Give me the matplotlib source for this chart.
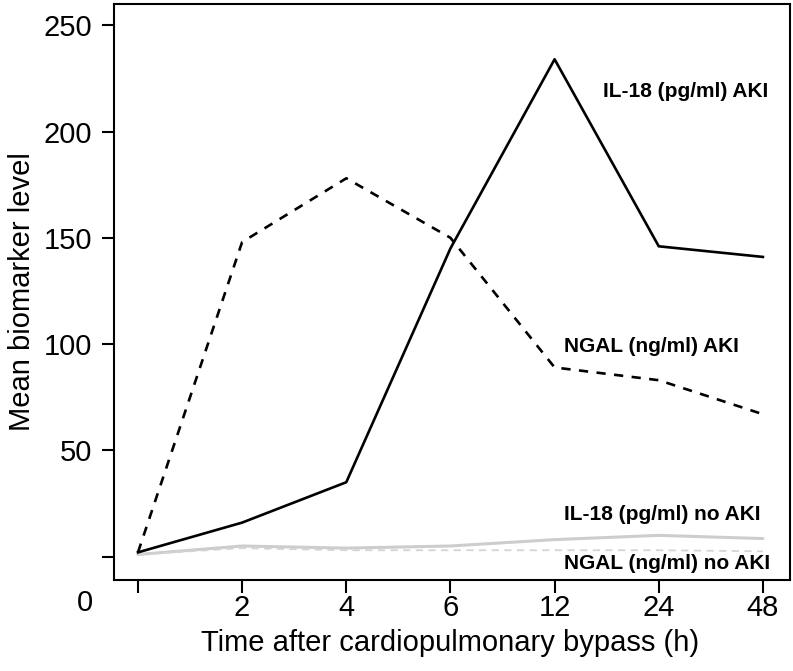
import matplotlib
matplotlib.use("Agg")

import matplotlib.pyplot as plt

plt.rcParams['font.family'] = ['Liberation Sans', 'DejaVu Sans']

# time points after bypass (categorical axis)
time_labels = ["0", "2", "4", "6", "12", "24", "48"]

# mean biomarker levels
il18_aki = [2, 16, 35, 145, 234, 146, 141]
ngal_aki = [2, 148, 178, 150, 89, 83, 67]
il18_no_aki = [1, 5, 4, 5, 8, 10, 8.5]
ngal_no_aki = [1, 4, 3, 3, 3, 3, 2.5]

series_names = ["IL-18 (pg/ml) AKI", "NGAL (ng/ml) AKI",
                "IL-18 (pg/ml) no AKI", "NGAL (ng/ml) no AKI"]

x = list(range(len(time_labels)))

fig = plt.figure(figsize=(7.93, 6.71), dpi=100)
ax = fig.add_axes([114 / 793, 91 / 671, 676 / 793, 576 / 671])

ax.plot(x, il18_no_aki, color="#cdcdcd", lw=2.2, solid_capstyle="round")
ax.plot(x, ngal_no_aki, color="#d4d4d4", lw=1.3, dashes=(4, 3))
ax.plot(x, il18_aki, color="black", lw=1.9)
ax.plot(x, ngal_aki, color="black", lw=1.9, dashes=(3.5, 3.2))

ax.set_xlim(-0.23, 6.26)
ax.set_ylim(-11, 260)

ax.set_xticks(x)
ax.set_xticklabels([""] + time_labels[1:])
ax.set_yticks([0, 50, 100, 150, 200, 250])
ax.set_yticklabels(["", "50", "100", "150", "200", "250"])

for s in ax.spines.values():
    s.set_linewidth(1.5)
ax.tick_params(direction="out", length=9, width=1.5, labelsize=21)
ax.tick_params(axis="x", pad=1)
ax.tick_params(axis="y", pad=7)

# the stray "0" sits under the y axis, in the x label row
fig.text(85 / 793, 1 - 603 / 671, "0", fontsize=21, ha="center", va="center")

fig.text(22 / 793, 1 - 292 / 671, "Mean biomarker level", fontsize=21,
         rotation=90, ha="center", va="center")
fig.text(450 / 793, 1 - 643 / 671, "Time after cardiopulmonary bypass (h)",
         fontsize=21, ha="center", va="center")

# series labels on the plot
label_x = [4.46, 4.09, 4.09, 4.09]
label_y = [219, 99, 19.7, -3.3]
for name, lx, ly in zip(series_names, label_x, label_y):
    ax.text(lx, ly, name, fontsize=15, fontweight="bold", ha="left", va="center")

plt.savefig("out.png", dpi=100)
plt.close()
